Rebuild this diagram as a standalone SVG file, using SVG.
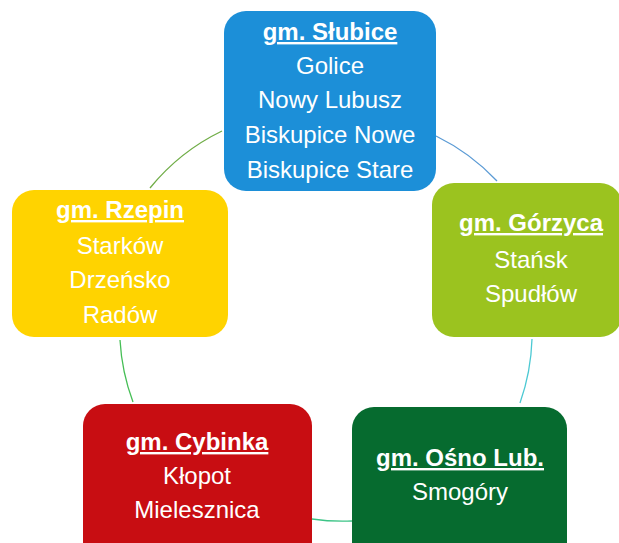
<svg xmlns="http://www.w3.org/2000/svg" width="619" height="543" viewBox="0 0 619 543">
<style>
text{font-family:"Liberation Sans",Arial,sans-serif;font-size:24px;fill:#fff;text-anchor:middle}
.t{font-weight:bold;text-decoration:underline}
.c{fill:none;stroke-width:1.3}
</style>
<rect width="619" height="543" fill="#fff"/>
<g id="connectors">
<path class="c" stroke="#5B9BD5" d="M436,136 A211,211 0 0 1 497,181"/>
<path class="c" stroke="#4CC9D3" d="M532,339 A211,211 0 0 1 520,403"/>
<path class="c" stroke="#3CC486" d="M352,521 A211,211 0 0 1 312,519"/>
<path class="c" stroke="#45BE55" d="M133,402 A211,211 0 0 1 120,340"/>
<path class="c" stroke="#70AD47" d="M150,188 A211,211 0 0 1 222,131"/>
</g>
<g id="slubice">
<rect x="224" y="11" width="212" height="180" rx="22" fill="#1C8FD8"/>
<text class="t" x="330" y="40">gm. Słubice</text>
<text x="330" y="74">Golice</text>
<text x="330" y="108">Nowy Lubusz</text>
<text x="330" y="143">Biskupice Nowe</text>
<text x="330" y="178">Biskupice Stare</text>
</g>
<g id="gorzyca">
<rect x="432" y="183" width="190" height="154" rx="22" fill="#9BC31F"/>
<text class="t" x="531" y="231">gm. Górzyca</text>
<text x="531" y="268">Stańsk</text>
<text x="531" y="302">Spudłów</text>
</g>
<g id="osno">
<rect x="352" y="407" width="215" height="160" rx="22" fill="#066B2F"/>
<text class="t" x="460" y="466">gm. Ośno Lub.</text>
<text x="460" y="500">Smogóry</text>
</g>
<g id="cybinka">
<rect x="83" y="404" width="229" height="160" rx="22" fill="#C80D12"/>
<text class="t" x="197" y="450">gm. Cybinka</text>
<text x="197" y="484">Kłopot</text>
<text x="197" y="518">Mielesznica</text>
</g>
<g id="rzepin">
<rect x="12" y="190" width="216" height="147" rx="22" fill="#FFD300"/>
<text class="t" x="120" y="218">gm. Rzepin</text>
<text x="120" y="254">Starków</text>
<text x="120" y="288">Drzeńsko</text>
<text x="120" y="323">Radów</text>
</g>
</svg>
